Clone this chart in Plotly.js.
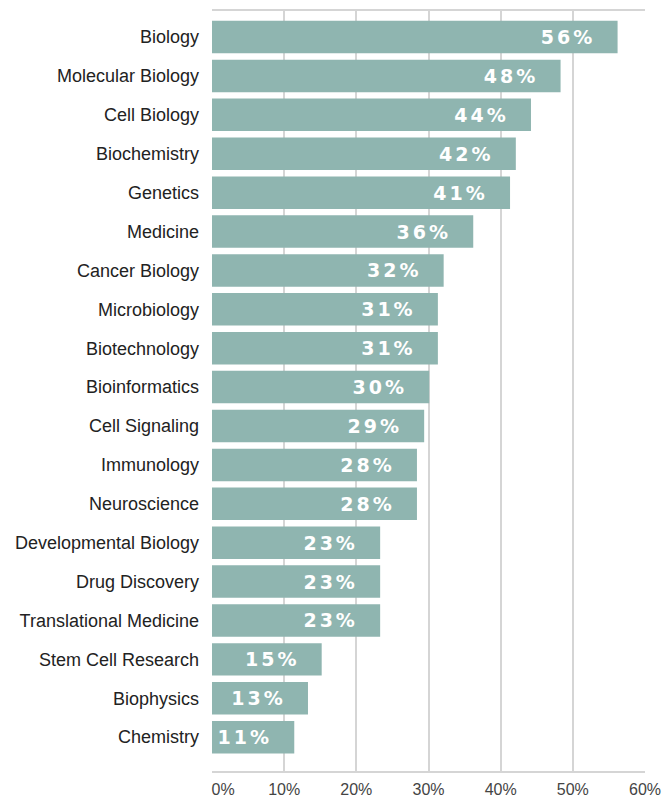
<!DOCTYPE html>
<html>
<head>
<meta charset="utf-8">
<script src="https://cdn.plot.ly/plotly-3.0.1.min.js"></script>
<style>
  html, body { margin: 0; padding: 0; background: #fff; }
  #chart { width: 664px; height: 798px; }
  text.bartext { letter-spacing: 3px; }
</style>
</head>
<body>
<div id="chart"></div>
<script>
// Categories, top to bottom
const categories = [
  "Biology", "Molecular Biology", "Cell Biology", "Biochemistry", "Genetics",
  "Medicine", "Cancer Biology", "Microbiology", "Biotechnology", "Bioinformatics",
  "Cell Signaling", "Immunology", "Neuroscience", "Developmental Biology",
  "Drug Discovery", "Translational Medicine", "Stem Cell Research", "Biophysics", "Chemistry"
];
// Share of respondents (%)
const values = [
  56.2, 48.3, 44.2, 42.1, 41.3,
  36.2, 32.1, 31.3, 31.3, 30.1,
  29.4, 28.4, 28.4, 23.3,
  23.3, 23.3, 15.2, 13.3, 11.4
];
// X-axis ticks
const tickValues = [0, 10, 20, 30, 40, 50, 60];
const tickLabels = ["0%", "10%", "20%", "30%", "40%", "50%", "60%"];

const nb = "\u00a0";
const shownTickLabels = tickLabels.map((t, i) =>
  i === 0 ? nb.repeat(5) + t : t);

const order = categories.slice().reverse();

const trace = {
  type: "bar",
  orientation: "h",
  x: values,
  y: categories,
  marker: { color: "#8fb5b0", line: { width: 0 } },
  texttemplate: "%{x:.0f}%" + nb + nb,
  textposition: "inside",
  insidetextanchor: "end",
  textangle: 0,
  constraintext: "none",
  insidetextfont: { family: "DejaVu Sans", size: 19, color: "#ffffff", weight: "bold" },
  hoverinfo: "none",
  cliponaxis: false
};

const layout = {
  width: 664,
  height: 798,
  margin: { l: 212, r: 19, t: 11, b: 27, pad: 0 },
  paper_bgcolor: "#ffffff",
  plot_bgcolor: "#ffffff",
  showlegend: false,
  bargap: 0.165,
  xaxis: {
    range: [0, 60],
    tickvals: tickValues,
    ticktext: shownTickLabels,
    showgrid: true,
    gridcolor: "#d5d5d5",
    gridwidth: 2,
    zeroline: false,
    showline: true,
    linecolor: "#d5d5d5",
    linewidth: 2,
    mirror: true,
    ticks: "",
    ticklabelstandoff: 3,
    tickfont: { family: "Liberation Sans", size: 16, color: "#444" },
    automargin: false,
    fixedrange: true
  },
  yaxis: {
    type: "category",
    categoryorder: "array",
    categoryarray: order,
    range: [-0.87, 18.67],
    showgrid: false,
    zeroline: false,
    showline: false,
    ticks: "",
    ticklabelstandoff: 12,
    tickfont: { family: "Liberation Sans", size: 18, color: "#222" },
    automargin: false,
    fixedrange: true
  }
};

Plotly.newPlot("chart", [trace], layout, { displayModeBar: false, staticPlot: true });
</script>
</body>
</html>
